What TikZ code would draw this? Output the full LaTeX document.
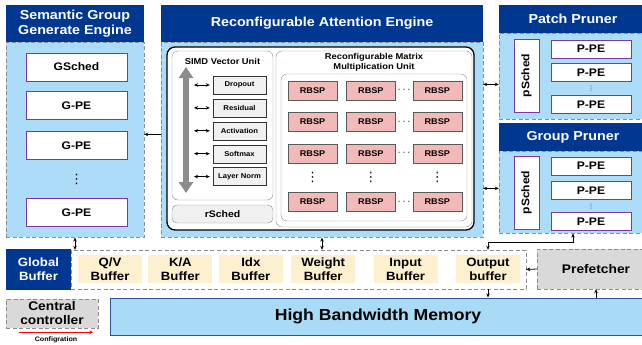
\documentclass[tikz,border=0pt]{standalone}
\usepackage{fontspec}
\setmainfont{Liberation Sans}[FakeStretch=1.1]
\newfontfamily\dotsym{DejaVu Sans}
\usetikzlibrary{positioning, arrows.meta}

\definecolor{hdblue}{RGB}{0,56,145}
\definecolor{panelblue}{RGB}{173,220,248}
\definecolor{bufcream}{RGB}{253,240,206}
\definecolor{rbsppink}{RGB}{242,185,185}
\definecolor{boxpurple}{RGB}{125,55,165}
\definecolor{dashgray}{RGB}{140,140,140}
\definecolor{softgray}{RGB}{217,217,217}
\definecolor{palegray}{RGB}{240,240,240}
\definecolor{hbmblue}{RGB}{170,219,246}
\definecolor{hbmedge}{RGB}{47,85,151}

\begin{document}
\begin{tikzpicture}[
        x=1pt, y=-1pt,
        every node/.style={font=\bfseries\fontsize{11}{13}\selectfont},
        head/.style={fill=hdblue, text=white, inner sep=0pt, align=center, font=\bfseries\fontsize{13}{15}\selectfont},
        panel/.style={draw=dashgray, dash pattern=on 4pt off 2.5pt, fill=panelblue, inner sep=0pt},
        pe/.style={draw=boxpurple, fill=white, line width=0.9pt, inner sep=0pt},
        op/.style={draw=black!80, fill=palegray, minimum width=53pt, minimum height=18pt, inner sep=0pt, font=\bfseries\fontsize{7}{8}\selectfont},
        rbsp/.style={draw=black!65, fill=rbsppink, minimum width=49pt, minimum height=19pt, inner sep=0pt, font=\bfseries\fontsize{8.3}{10}\selectfont},
        unit/.style={draw=black!45, fill=white, rounded corners=6pt, inner sep=0pt},
        buf/.style={fill=bufcream, minimum width=64pt, minimum height=28pt, inner sep=0pt, align=center, font=\bfseries\fontsize{12}{14}\selectfont},
        ctrl/.style={draw=dashgray, dash pattern=on 4pt off 2.5pt, fill=softgray, inner sep=0pt, align=center, font=\bfseries\fontsize{12.5}{14}\selectfont},
        dots/.style={inner sep=0pt, outer sep=0pt},
        vdots/.style={inner sep=0pt, outer sep=0pt, font=\dotsym\fontsize{#1}{#1}\selectfont},
        arr/.style={-{Stealth[length=4pt,width=3.5pt]}, line width=0.8pt},
        dbl/.style={{Stealth[length=4pt,width=3.5pt]}-{Stealth[length=4pt,width=3.5pt]}, line width=0.8pt}
    ]

    \useasboundingbox (0,0) rectangle (642,345);

    \node[head, minimum width=138pt, minimum height=37pt] (sg_head) at (75,23.5) {Semantic Group\\Generate Engine};
    \node[panel, minimum width=138pt, minimum height=195pt, below=0pt of sg_head] (sg_body) {};
    \node[pe, minimum width=101pt, minimum height=28pt] (gsched) at (76.5,67) {GSched};
    \node[pe, minimum width=101pt, minimum height=28pt, below=10pt of gsched] (gpe1) {G-PE};
    \node[pe, minimum width=101pt, minimum height=28pt, below=11pt of gpe1] (gpe2) {G-PE};
    \node[pe, minimum width=101pt, minimum height=28pt, below=38pt of gpe2] (gpe3) {G-PE};
    \path (gpe2) -- (gpe3) node[vdots=13, midway] (g_dots) {⋮};

    \node[head, minimum width=322pt, minimum height=37pt] (rae_head) at (322,23.5) {Reconfigurable Attention Engine};
    \node[panel, minimum width=322pt, minimum height=195pt, below=0pt of rae_head] (rae_body) {};
    \node[draw, fill=white, line width=1.3pt, rounded corners=8pt, minimum width=307pt, minimum height=183pt, inner sep=0pt] (rae_core) at (320.5,138.5) {};

    \node[unit, minimum width=101pt, minimum height=149pt] (simd) at (222.5,125.5) {};
    \node[font=\bfseries\fontsize{8.5}{10}\selectfont] (simd_title) at (222.5,61) {SIMD Vector Unit};
    \node[op] (dropout) at (239.5,85) {Dropout};
    \node[op, below=4.5pt of dropout] (residual) {Residual};
    \node[op, below=4.5pt of residual] (activation) {Activation};
    \node[op, below=4.5pt of activation] (softmax) {Softmax};
    \node[op, below=4.5pt of softmax] (lnorm) {Layer Norm};
    \coordinate (bus_top) at (186,67);
    \coordinate (bus_bot) at (186,193);
    \draw[line width=6pt, draw=black!45, {Triangle[width=14pt,length=11pt]}-{Triangle[width=14pt,length=11pt]}] (bus_top) -- (bus_bot);
    \draw[dbl] ([xshift=8pt]bus_top |- dropout.west) -- ([xshift=-3pt]dropout.west);
    \draw[dbl] ([xshift=8pt]bus_top |- residual.west) -- ([xshift=-3pt]residual.west);
    \draw[dbl] ([xshift=8pt]bus_top |- activation.west) -- ([xshift=-3pt]activation.west);
    \draw[dbl] ([xshift=8pt]bus_top |- softmax.west) -- ([xshift=-3pt]softmax.west);
    \draw[dbl] ([xshift=8pt]bus_top |- lnorm.west) -- ([xshift=-3pt]lnorm.west);
    \node[unit, fill=palegray, rounded corners=5pt, minimum width=101pt, minimum height=18pt, font=\bfseries\fontsize{9.5}{11}\selectfont] (rsched) at (222.5,214) {rSched};

    \node[unit, minimum width=196pt, minimum height=176pt] (rmmu) at (374,139) {};
    \node[align=center, font=\bfseries\fontsize{8.5}{10}\selectfont] (rmmu_title) at (374,62) {Reconfigurable Matrix\\Multiplication Unit};
    \node[unit, minimum width=186pt, minimum height=147pt] (rbsp_area) at (374,147.5) {};
    \node[rbsp] (r11) at (312.5,90.5) {RBSP};
    \node[rbsp, right=9pt of r11] (r12) {RBSP};
    \node[rbsp, right=17pt of r12] (r13) {RBSP};
    \node[rbsp, below=12pt of r11] (r21) {RBSP};
    \node[rbsp, right=9pt of r21] (r22) {RBSP};
    \node[rbsp, right=17pt of r22] (r23) {RBSP};
    \node[rbsp, below=12pt of r21] (r31) {RBSP};
    \node[rbsp, right=9pt of r31] (r32) {RBSP};
    \node[rbsp, right=17pt of r32] (r33) {RBSP};
    \node[rbsp, below=29pt of r31] (r41) {RBSP};
    \node[rbsp, right=9pt of r41] (r42) {RBSP};
    \node[rbsp, right=17pt of r42] (r43) {RBSP};
    \path (r12) -- (r13) node[dots, midway] (h_dots1) {$\cdots$};
    \path (r22) -- (r23) node[dots, midway] (h_dots2) {$\cdots$};
    \path (r32) -- (r33) node[dots, midway] (h_dots3) {$\cdots$};
    \path (r42) -- (r43) node[dots, midway] (h_dots4) {$\cdots$};
    \path (r31) -- (r41) node[vdots=13, midway] (v_dots1) {⋮};
    \path (r32) -- (r42) node[vdots=13, midway] (v_dots2) {⋮};
    \path (r33) -- (r43) node[vdots=13, midway] (v_dots3) {⋮};

    \node[head, minimum width=148pt, minimum height=28pt] (pp_head) at (573,19) {Patch Pruner};
    \node[panel, minimum width=148pt, minimum height=86pt, below=0pt of pp_head] (pp_body) {};
    \node[pe, rotate=90, minimum width=73pt, minimum height=25pt] (psched_a) at (526.5,75.5) {pSched};
    \node[pe, minimum width=80pt, minimum height=18pt] (ppe_a1) at (591,49) {P-PE};
    \node[pe, minimum width=80pt, minimum height=18pt, below=5pt of ppe_a1] (ppe_a2) {P-PE};
    \node[pe, minimum width=80pt, minimum height=18pt, below=13pt of ppe_a2] (ppe_a3) {P-PE};
    \path (ppe_a2) -- (ppe_a3) node[vdots=6, midway] (p_dots_a) {⋮};

    \node[head, minimum width=148pt, minimum height=28pt] (gp_head) at (573,137) {Group Pruner};
    \node[panel, minimum width=148pt, minimum height=82pt, below=0pt of gp_head] (gp_body) {};
    \node[pe, rotate=90, minimum width=73pt, minimum height=25pt] (psched_b) at (526.5,192.5) {pSched};
    \node[pe, minimum width=80pt, minimum height=18pt] (ppe_b1) at (591,166) {P-PE};
    \node[pe, minimum width=80pt, minimum height=18pt, below=6pt of ppe_b1] (ppe_b2) {P-PE};
    \node[pe, minimum width=80pt, minimum height=18pt, below=12pt of ppe_b2] (ppe_b3) {P-PE};
    \path (ppe_b2) -- (ppe_b3) node[vdots=6, midway] (p_dots_b) {⋮};

    \node[head, minimum width=65pt, minimum height=41pt, font=\bfseries\fontsize{12}{14}\selectfont] (glob) at (38.5,269.5) {Global\\Buffer};
    \node[draw=dashgray, dash pattern=on 4pt off 2.5pt, minimum width=455pt, minimum height=39pt, inner sep=0pt] (buf_box) at (298.5,269.5) {};
    \node[buf] (qv) at (110,269) {Q/V\\Buffer};
    \node[buf, right=6pt of qv] (ka) {K/A\\Buffer};
    \node[buf, right=6pt of ka] (idx) {Idx\\Buffer};
    \node[buf, right=8pt of idx] (weight) {Weight\\Buffer};
    \node[buf, right=18pt of weight] (input) {Input\\Buffer};
    \node[buf, right=18pt of input] (outbuf) {Output\\buffer};
    \node[ctrl, minimum width=118pt, minimum height=40pt] (prefetch) at (596,269) {Prefetcher};
    \node[ctrl, minimum width=92pt, minimum height=29pt] (central) at (52,313.5) {Central\\controller};
    \node[draw=hbmedge, fill=hbmblue, line width=1pt, minimum width=536pt, minimum height=37pt, inner sep=0pt, font=\bfseries\fontsize{16}{18}\selectfont] (hbm) at (378,316.5) {High Bandwidth Memory};

    \draw[red, line width=1pt, -{Stealth[length=4pt,width=3.5pt]}] ([xshift=13pt,yshift=-4pt]central.south west) -- ([xshift=-5pt,yshift=-4pt]central.south east) node[midway, below=0.5pt, text=black, font=\bfseries\fontsize{6.5}{7}\selectfont] (cfg_label) {Configration};

    \draw[arr] ([yshift=5.5pt]rae_body.west) -- ([yshift=5.5pt]sg_body.east);
    \draw[dbl] ([yshift=-8pt]rae_body.east |- pp_body.west) -- ([yshift=-8pt]pp_body.west);
    \draw[dbl] ([yshift=4pt]rae_body.east |- gp_body.west) -- ([yshift=4pt]gp_body.west);
    \draw[dbl] (sg_body.south) -- (sg_body.south |- buf_box.north);
    \draw[dbl] (rae_body.south) -- (rae_body.south |- buf_box.north);
    \draw[dbl] (gp_body.south) -- ([yshift=-9pt]gp_body.south) -| (outbuf.north |- buf_box.north);
    \draw[arr] (prefetch.west) -- (buf_box.east);
    \draw[arr] (outbuf.south |- buf_box.south) -- (outbuf.south |- hbm.north);
    \draw[arr] (hbm.north -| prefetch.south) -- (prefetch.south);

\end{tikzpicture}
\end{document}
